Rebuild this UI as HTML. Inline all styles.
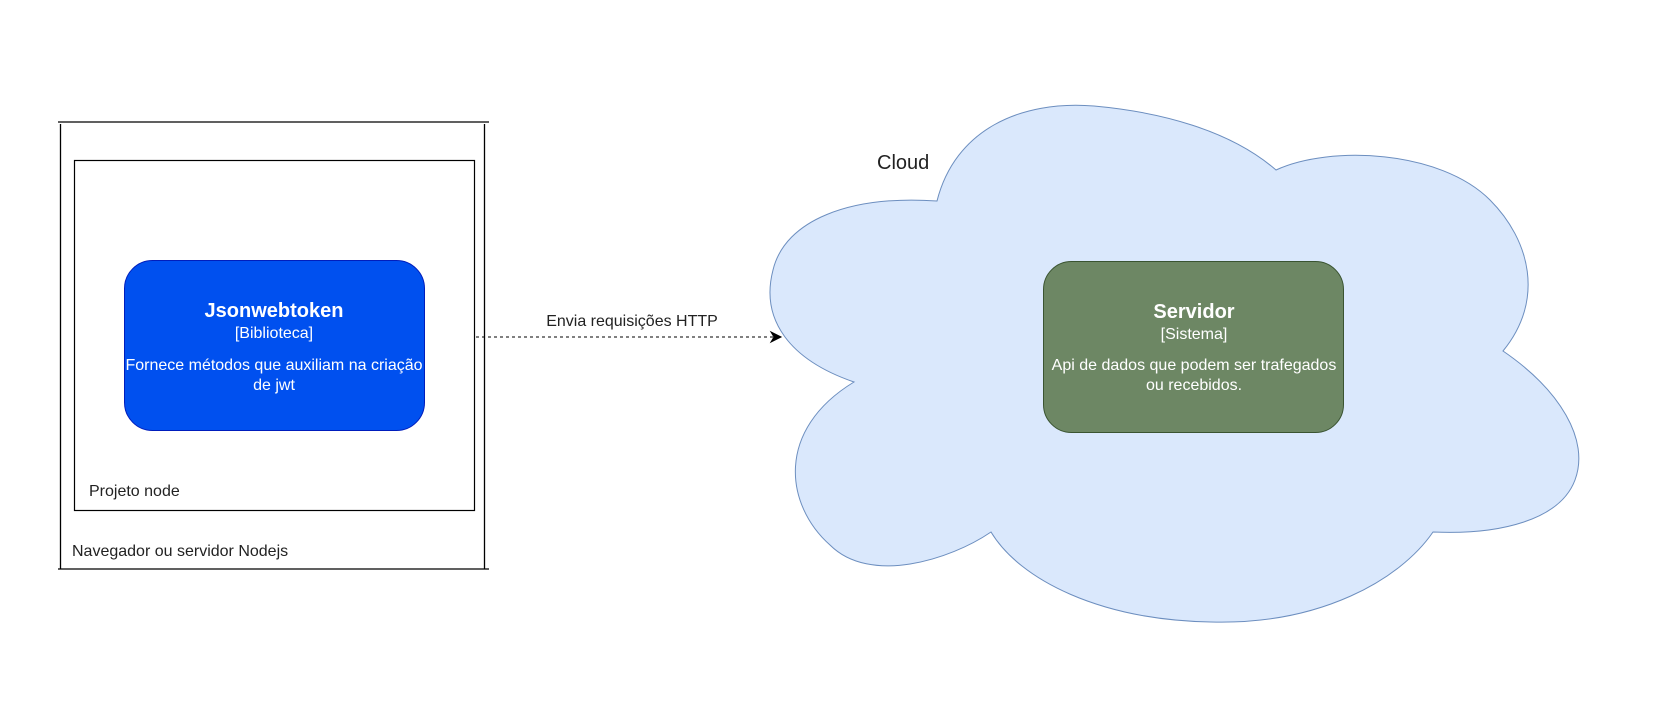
<!DOCTYPE html>
<html><head><meta charset="utf-8"><style>
body{margin:0;background:#fff;}
svg{display:block;font-family:"Liberation Sans",Arial,sans-serif;}
</style></head><body>
<svg width="1661" height="701" viewBox="0 0 1661 701" xmlns="http://www.w3.org/2000/svg">
<rect width="1661" height="701" fill="#fff"/>
<line x1="58" y1="122" x2="489" y2="122" stroke="#000" stroke-width="1.3"/>
<line x1="58" y1="569" x2="489" y2="569" stroke="#000" stroke-width="1.3"/>
<line x1="60.5" y1="124" x2="60.5" y2="569" stroke="#000" stroke-width="1.3"/>
<line x1="484.5" y1="124" x2="484.5" y2="569" stroke="#000" stroke-width="1.3"/>
<text x="72" y="556" font-size="16" fill="#222">Navegador ou servidor Nodejs</text>
<rect x="74.5" y="160.5" width="400" height="350" fill="#fff" stroke="#000" stroke-width="1.2"/>
<text x="89" y="496" font-size="16" fill="#222">Projeto node</text>
<rect x="124.5" y="260.5" width="300" height="170" rx="28" fill="#0050ef" stroke="#001dbc"/>
<g fill="#fff" text-anchor="middle">
<text x="274" y="317" font-size="20" font-weight="bold">Jsonwebtoken</text>
<text x="274" y="338" font-size="16">[Biblioteca]</text>
<text x="274" y="370" font-size="16">Fornece métodos que auxiliam na criação</text>
<text x="274" y="390" font-size="16">de jwt</text>
</g>
<path d="M937,201 C955,130 1020,100 1094,106 C1160,112 1230,130 1276,170 C1330,145 1440,150 1490,200 C1530,240 1545,300 1503,351 C1560,390 1590,440 1575,480 C1560,520 1500,535 1433,532 C1400,580 1320,625 1211,622 C1100,620 1020,580 991,532 C950,560 870,585 830,545 C785,505 775,430 854,382 C790,360 760,320 773,270 C785,220 850,195 937,201 Z" fill="#dae8fc" stroke="#6c8ebf" stroke-width="1"/>
<text x="877" y="169" font-size="20" fill="#222">Cloud</text>
<rect x="1043.5" y="261.5" width="300" height="171" rx="28" fill="#6d8764" stroke="#3a5431"/>
<g fill="#fff" text-anchor="middle">
<text x="1194" y="318" font-size="20" font-weight="bold">Servidor</text>
<text x="1194" y="339" font-size="16">[Sistema]</text>
<text x="1194" y="370" font-size="16">Api de dados que podem ser trafegados</text>
<text x="1194" y="390" font-size="16">ou recebidos.</text>
</g>
<line x1="476" y1="337" x2="774" y2="337" stroke="#000" stroke-dasharray="3,3"/>
<path d="M781,337 L771,332 L774,337 L771,342 Z" fill="#000" stroke="#000"/>
<text x="632" y="326" font-size="16" fill="#222" text-anchor="middle">Envia requisições HTTP</text>
</svg>
</body></html>
